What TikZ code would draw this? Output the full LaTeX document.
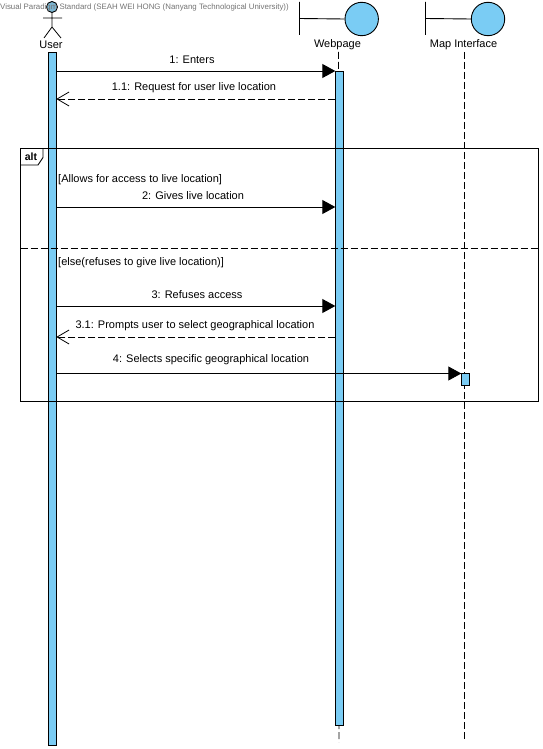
\documentclass[tikz,border=0pt]{standalone}
\usepackage{fontspec}
\setmainfont{Liberation Sans}
\usetikzlibrary{arrows.meta}
\definecolor{barblue}{RGB}{122,204,244}
\tikzset{
  lbl/.style={font=\fontsize{11}{13}\selectfont, inner sep=0pt},
  guard/.style={lbl, anchor=west},
  bar/.style={draw, line width=0.9pt, fill=barblue, inner sep=0pt, outer sep=0pt, minimum width=8pt, anchor=north},
  lifeline/.style={line width=0.9pt, dash pattern=on 7pt off 3pt},
  call/.style={line width=0.9pt, -{Triangle[length=13pt,width=14pt]}},
  reply/.style={line width=0.9pt, dash pattern=on 7pt off 3pt, -{Straight Barb[length=12pt,width=14pt,line width=0.8pt]}},
}
\begin{document}
\begin{tikzpicture}[x=1pt,y=-1pt]
    \useasboundingbox (0,0) rectangle (542,749);

    % Define the circle radius of the boundary heads
    \def\headr{16.7}

    % Draw the actor
    \node[circle, draw, line width=0.9pt, fill=barblue!70!gray, minimum size=11pt, inner sep=0pt] (userhead) at (52,7) {};
    \coordinate (hip) at (52,27);
    \coordinate (armL) at (43,18);
    \coordinate (armR) at (62,18);
    \coordinate (footL) at (44,38);
    \coordinate (footR) at (61,38);
    \draw[line width=0.8pt] (userhead.south) -- (hip) -- (footL) (hip) -- (footR) (armL) -- (armR);
    \node[lbl] (user) at (51,45) {User};

    % Draw the stamp across the top
    \node[lbl, anchor=west, text=black!55, font=\fontsize{7.87}{9}\selectfont] (stamp) at (0,7) {Visual Paradigm Standard (SEAH WEI HONG (Nanyang Technological University))};

    % Draw the boundary objects
    \node[circle, draw, line width=0.9pt, fill=barblue, minimum size=2*\headr pt, inner sep=0pt] (webhead) at (361.7,19) {};
    \coordinate (webtop) at (299.5,2);
    \coordinate (webbot) at (299.5,35);
    \coordinate (webmid) at (299.5,18.5);
    \draw[line width=0.9pt] (webtop) -- (webbot) (webmid) -- (webhead.west);
    \node[lbl] (web) at (337.5,45) {Webpage};

    \node[circle, draw, line width=0.9pt, fill=barblue, minimum size=2*\headr pt, inner sep=0pt] (maphead) at (488,19) {};
    \coordinate (maptop) at (425.5,2);
    \coordinate (mapbot) at (425.5,35);
    \coordinate (mapmid) at (425.5,18.5);
    \draw[line width=0.9pt] (maptop) -- (mapbot) (mapmid) -- (maphead.west);
    \node[lbl] (map) at (463.5,45) {Map Interface};

    % Draw the lifelines
    \coordinate (webend) at (339,742);
    \coordinate (webstart) at (338.5,52);
    \coordinate (mapstart) at (464.5,52);
    \coordinate (mapend) at (464.5,742);
    \draw[lifeline] (webstart) -- (webend);
    \draw[lifeline] (mapstart) -- (mapend);

    % Draw the activation bars
    \node[bar, minimum height=692.5pt] (userbar) at (52.3,52.5) {};
    \node[bar, minimum height=653.5pt] (webbar) at (339.3,71.5) {};
    \node[bar, minimum height=12pt] (mapbar) at (465.3,373.5) {};

    % Draw the alt frame
    \node[draw, line width=0.9pt, outer sep=0pt, minimum width=518pt, minimum height=253pt, inner sep=0pt, anchor=north west] (altframe) at (20.5,148.5) {};
    \coordinate (tabA) at (43,148.5);
    \coordinate (tabB) at (43,157.5);
    \coordinate (tabC) at (38,165);
    \coordinate (tabD) at (20.5,165);
    \draw[line width=0.9pt] (tabA) -- (tabB) -- (tabC) -- (tabD);
    \node[lbl, font=\fontsize{10.5}{12}\selectfont\bfseries] (alttag) at (31,156.5) {alt};
    \coordinate (sepL) at (20.5,248);
    \coordinate (sepR) at (538.5,248);
    \draw[lifeline] (sepL) -- (sepR);
    \node[guard] (guardA) at (58,180) {[Allows for access to live location]};
    \node[guard] (guardB) at (58,263) {[else(refuses to give live location)]};

    % Draw the messages
    \coordinate (m1a) at (56.3,71);
    \coordinate (m1b) at (335.3,71);
    \draw[call] (m1a) -- (m1b);
    \node[lbl] (m1) at (192,59.5) {1: Enters};

    \coordinate (m11a) at (335.3,99);
    \coordinate (m11b) at (56.3,99);
    \draw[reply] (m11a) -- (m11b);
    \node[lbl] (m11) at (194,87.5) {1.1: Request for user live location};

    \coordinate (m2a) at (56.3,207);
    \coordinate (m2b) at (335.3,207);
    \draw[call] (m2a) -- (m2b);
    \node[lbl] (m2) at (193,195.5) {2: Gives live location};

    \coordinate (m3a) at (56.3,306);
    \coordinate (m3b) at (335.3,306);
    \draw[call] (m3a) -- (m3b);
    \node[lbl] (m3) at (197,294.5) {3: Refuses access};

    \coordinate (m31a) at (335.3,337);
    \coordinate (m31b) at (56.3,337);
    \draw[reply] (m31a) -- (m31b);
    \node[lbl] (m31) at (195,325.5) {3.1: Prompts user to select geographical location};

    \coordinate (m4a) at (56.3,373.5);
    \coordinate (m4b) at (461.3,373.5);
    \draw[call] (m4a) -- (m4b);
    \node[lbl] (m4) at (211,359.5) {4: Selects specific geographical location};

\end{tikzpicture}
\end{document}
